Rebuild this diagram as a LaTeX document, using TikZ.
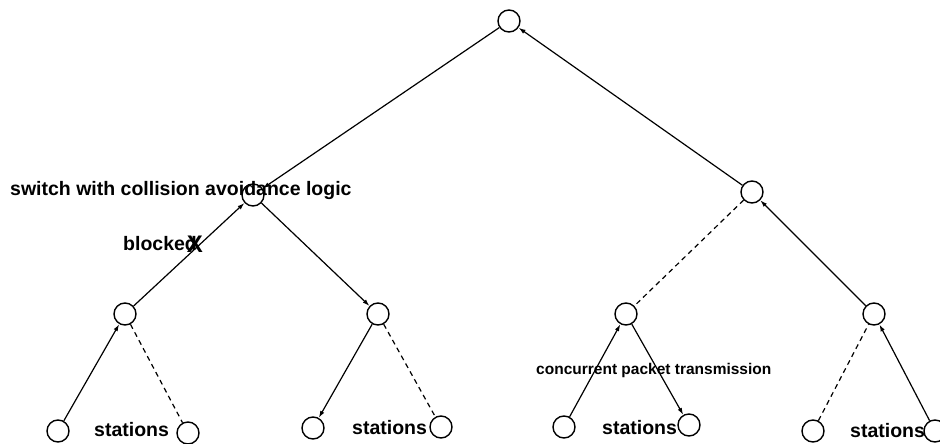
\documentclass[tikz,border=0pt]{standalone}
\usepackage{fontspec}
\setmainfont{Liberation Sans}
\usetikzlibrary{arrows.meta}
\begin{document}
\begin{tikzpicture}[x=1pt,y=-1pt,
  sw/.style={circle,draw,line width=1.4pt,minimum size=22pt,inner sep=0pt},
  link/.style={line width=1.2pt},
  dlink/.style={line width=1.2pt,dash pattern=on 5pt off 4pt},
  arr/.style={link,-{Latex[length=7pt,width=4.5pt]}},
  lbl/.style={inner sep=0pt,anchor=west},
  big/.style={lbl,font=\bfseries\fontsize{19.5}{21}\selectfont}]
\useasboundingbox (0,0) rectangle (940,444);
\node[sw] (r) at (509,21) {};
\node[sw] (a) at (253,195) {};
\node[sw] (b) at (752,192) {};
\node[sw] (a1) at (125,314) {};
\node[sw] (a2) at (378,314) {};
\node[sw] (b1) at (626,314) {};
\node[sw] (b2) at (874,314) {};
\node[sw] (s1) at (58,431) {};
\node[sw] (s2) at (188,433) {};
\node[sw] (s3) at (313,428) {};
\node[sw] (s4) at (441,427) {};
\node[sw] (s5) at (564,427) {};
\node[sw] (s6) at (689,425) {};
\node[sw] (s7) at (813,431) {};
\node[sw] (s8) at (935,431) {};
\draw[arr] (r) -- (a);
\draw[arr] (b) -- (r);
\draw[arr] (a1) -- (a);
\draw[arr] (a) -- (a2);
\draw[dlink] (b) -- (b1);
\draw[arr] (b2) -- (b);
\draw[arr] (s1) -- (a1);
\draw[dlink] (a1) -- (s2);
\draw[arr] (a2) -- (s3);
\draw[dlink] (a2) -- (s4);
\draw[arr] (s5) -- (b1);
\draw[arr] (b1) -- (s6);
\draw[dlink] (s7) -- (b2);
\draw[arr] (s8) -- (b2);
\node[big] (t1) at (10,190) {switch with collision avoidance logic};
\node[big] (t2) at (123,244) {blocked};
\node[inner sep=0pt,font=\bfseries\fontsize{24}{26}\selectfont] (x) at (195,244) {X};
\node[lbl,font=\bfseries\fontsize{15.5}{17}\selectfont] (t3) at (536,370) {concurrent packet transmission};
\node[big] (st1) at (94,430) {stations};
\node[big] (st2) at (352,428) {stations};
\node[big] (st3) at (602,428) {stations};
\node[big] (st4) at (850,431) {stations};
\end{tikzpicture}
\end{document}
